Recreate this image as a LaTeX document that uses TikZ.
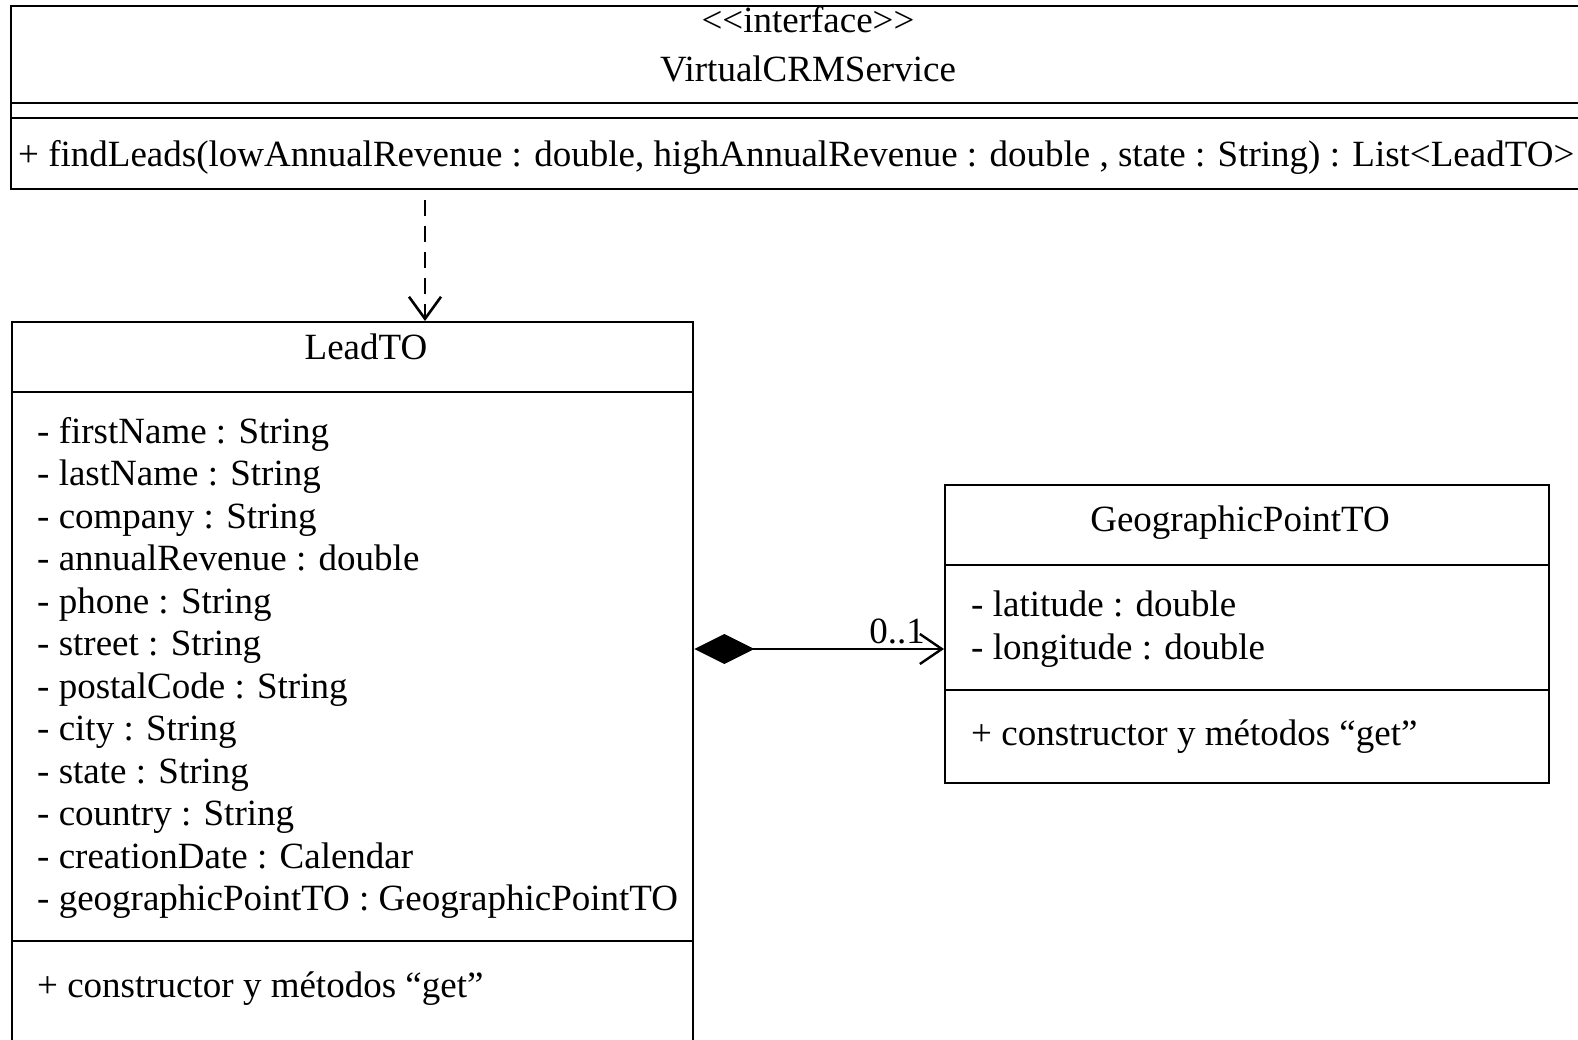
\documentclass[tikz,border=0pt]{standalone}
\usepackage{fontspec}
\setmainfont{Liberation Serif}[Ligatures=TeXOff]
\usetikzlibrary{arrows.meta}
\begin{document}
\begin{tikzpicture}[x=1pt,y=-1pt,
  umlbox/.style={draw=black, line width=2.4pt, fill=white, inner sep=0pt, anchor=north west},
  sep/.style={draw=black, line width=2.4pt},
  txt/.style={font=\fontsize{37}{42}\selectfont, inner sep=0pt, anchor=base west},
  ctxt/.style={font=\fontsize{37}{42}\selectfont, inner sep=0pt, anchor=base},
  dep/.style={line width=2.6pt, dash pattern=on 16pt off 10pt, -{Straight Barb[length=22pt,width=32pt,line width=2.6pt]}},
  comp/.style={line width=2.4pt, {Diamond[length=60pt,width=30pt]}-{Straight Barb[length=22pt,width=30pt,line width=2.4pt]}},
]
\useasboundingbox (0,0) rectangle (1578,1040);
\clip (0,0) rectangle (1578,1040);
\fill[white] (0,0) rectangle (1578,1040);

% interface box
\node[umlbox, minimum width=1596pt, minimum height=183pt] (iface) at (10,5) {};
\draw[sep] (iface.west |- 0,103) -- (iface.east |- 0,103);
\draw[sep] (iface.west |- 0,118) -- (iface.east |- 0,118);
\node[ctxt] (stereo) at (808,33) {<<interface>>};
\node[ctxt] (ifname) at (808,82) {VirtualCRMService};
\node[txt] (findleads) at (18,167) {+ findLeads(lowAnnualRevenue : double, highAnnualRevenue : double , state : String) : List<LeadTO>};

% LeadTO box
\node[umlbox, minimum width=681pt, minimum height=760pt] (lead) at (11,321) {};
\draw[sep] (lead.west |- 0,392) -- (lead.east |- 0,392);
\draw[sep] (lead.west |- 0,941) -- (lead.east |- 0,941);
\node[ctxt] (leadname) at (366,359) {LeadTO};
\foreach \t [count=\i from 0] in {%
  - firstName : String,
  - lastName : String,
  - company : String,
  - annualRevenue : double,
  - phone : String,
  - street : String,
  - postalCode : String,
  - city : String,
  - state : String,
  - country : String,
  - creationDate : Calendar,
  - geographicPointTO : GeographicPointTO}
  \node[txt] (la\i) at (37,{443+42.5*\i}) {\t};
\node[txt] (leadop) at (37,997) {+ constructor y métodos “get”};

% GeographicPointTO box
\node[umlbox, minimum width=604pt, minimum height=298pt] (geo) at (944,484) {};
\draw[sep] (geo.west |- 0,565) -- (geo.east |- 0,565);
\draw[sep] (geo.west |- 0,690) -- (geo.east |- 0,690);
\node[ctxt] (geoname) at (1240,531) {GeographicPointTO};
\node[txt] (ga0) at (971,616) {- latitude : double};
\node[txt] (ga1) at (971,659) {- longitude : double};
\node[txt] (geoop) at (971,745) {+ constructor y métodos “get”};

% connectors
\coordinate (dx) at (425,0);
\draw[dep, shorten <=10pt] (iface.south -| dx) -- (lead.north -| dx);
\coordinate (cy) at (0,649);
\draw[comp] (lead.east |- cy) -- (geo.west |- cy);
\node[ctxt] (mult) at (897,643) {0..1};
\end{tikzpicture}
\end{document}
